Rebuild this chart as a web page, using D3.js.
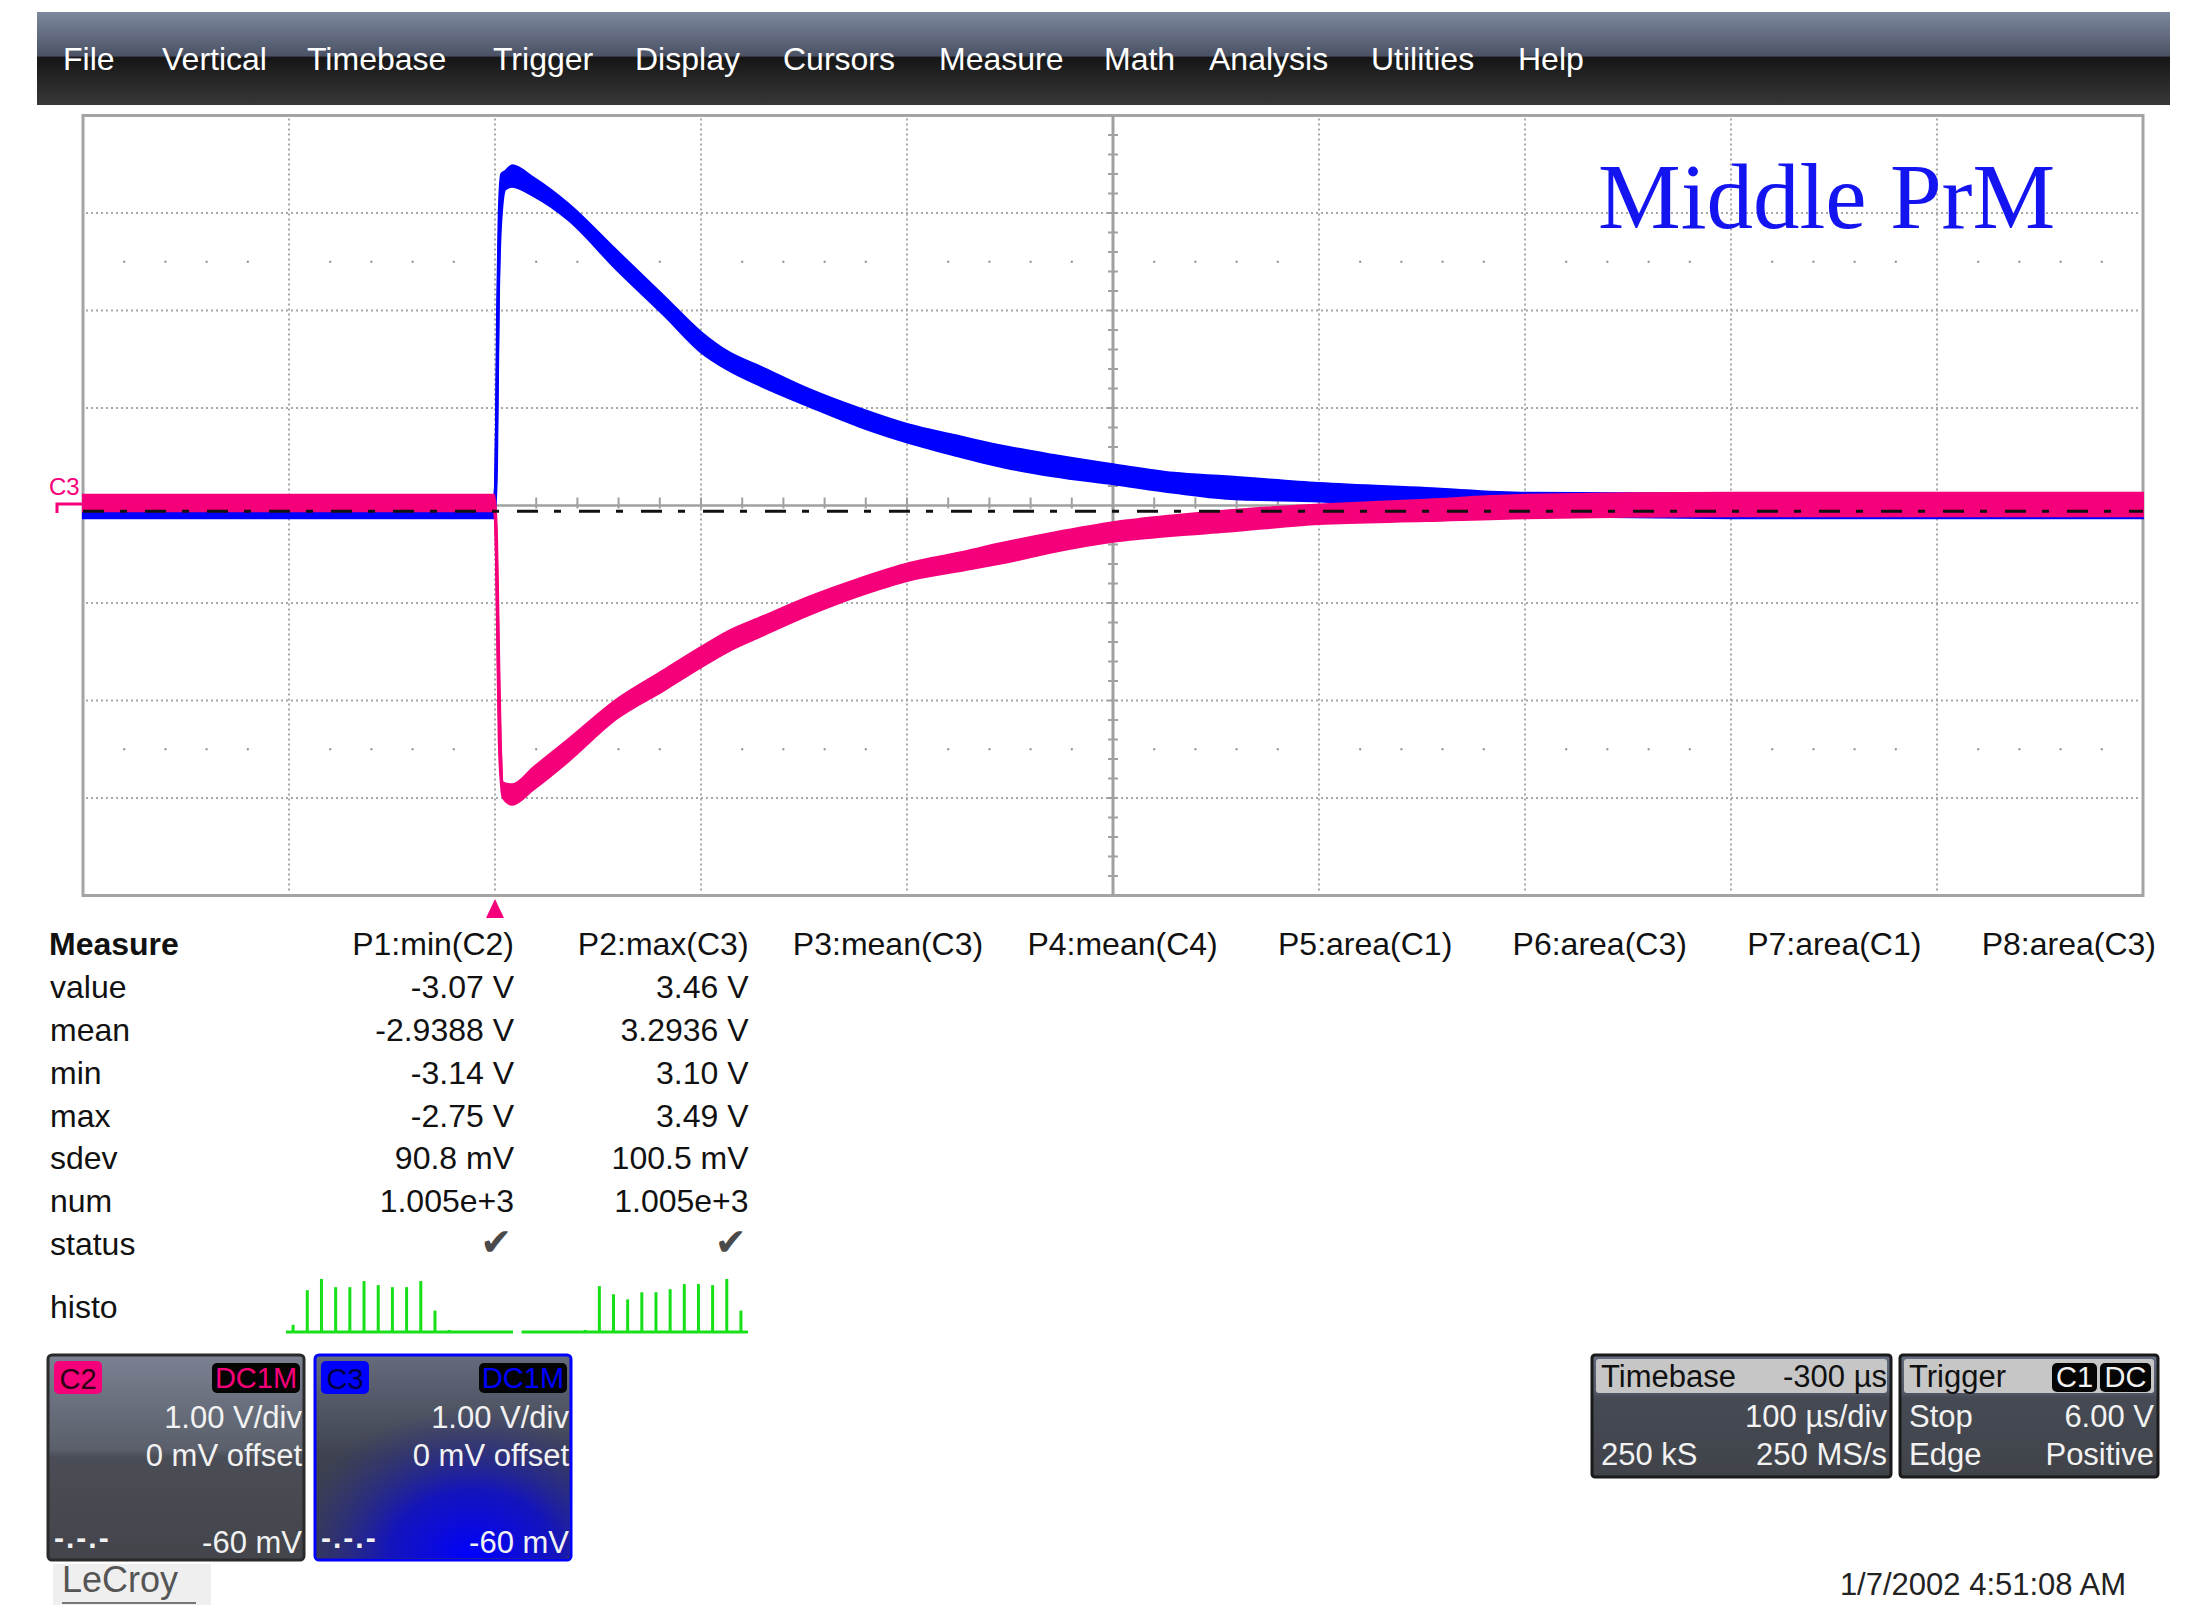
<!DOCTYPE html>
<html>
<head>
<meta charset="utf-8">
<script src="https://cdn.jsdelivr.net/npm/d3@7"></script>
<style>
  body { margin: 0; background: #fff; }
  text { font-family: "Liberation Sans", Arial, sans-serif; }
</style>
</head>
<body>
<script>
// ---- data ----
var menuItems = ["File", "Vertical", "Timebase", "Trigger", "Display", "Cursors", "Measure", "Math", "Analysis", "Utilities", "Help"];
var menuX = [63, 162, 307, 493, 635, 783, 939, 1104, 1209, 1371, 1518];

// C3 (blue) trace envelope, time in us, volts
var c3Time = [-200, -0.5, 0.3, 1.0, 1.8, 3, 5, 8.3, 18.9, 35.4, 58.9, 82.5, 100, 113, 129.5, 153, 176.6, 201, 223.6, 247, 270.7, 300.8, 329.6, 355, 400, 452, 501, 600, 700, 800];
var c3Hi = [0.05, 0.05, 0.45, 2.0, 3.0, 3.4, 3.43, 3.49, 3.36, 3.10, 2.62, 2.14, 1.78, 1.58, 1.42, 1.19, 1.00, 0.83, 0.72, 0.61, 0.52, 0.42, 0.335, 0.30, 0.23, 0.18, 0.13, 0.12, 0.12, 0.12];
var c3Lo = [-0.13, -0.13, 0.0, 0.45, 2.0, 2.9, 3.24, 3.27, 3.17, 2.93, 2.42, 1.94, 1.57, 1.39, 1.22, 1.01, 0.81, 0.64, 0.51, 0.39, 0.30, 0.215, 0.13, 0.07, 0.04, -0.02, -0.1, -0.13, -0.13, -0.13];

// C2 (pink) trace envelope
var c2Time = [-200, -0.5, 0.3, 1.0, 1.8, 2.8, 3.8, 8.3, 18.9, 35.4, 58.9, 82.5, 100, 113, 129.5, 153, 176.6, 201, 223.6, 247, 270.7, 300.8, 329.6, 355, 400, 452, 501, 600, 700, 800];
var c2Hi = [0.11, 0.11, 0, -0.35, -1.3, -2.4, -2.84, -2.86, -2.68, -2.40, -1.99, -1.68, -1.45, -1.29, -1.14, -0.93, -0.75, -0.59, -0.49, -0.38, -0.28, -0.17, -0.10, -0.05, 0.01, 0.06, 0.11, 0.13, 0.13, 0.13];
var c2Lo = [-0.06, -0.06, -0.35, -1.3, -2.4, -2.84, -3.0, -3.07, -2.91, -2.63, -2.19, -1.89, -1.66, -1.50, -1.34, -1.12, -0.93, -0.77, -0.68, -0.59, -0.48, -0.37, -0.31, -0.27, -0.19, -0.16, -0.13, -0.11, -0.11, -0.11];

var triggerLevel = -0.06; // V, dash-dot line

var measureCols = ["P1:min(C2)", "P2:max(C3)", "P3:mean(C3)", "P4:mean(C4)", "P5:area(C1)", "P6:area(C3)", "P7:area(C1)", "P8:area(C3)"];
var measureRows = ["value", "mean", "min", "max", "sdev", "num", "status"];
var p1Values = ["-3.07 V", "-2.9388 V", "-3.14 V", "-2.75 V", "90.8 mV", "1.005e+3"];
var p2Values = ["3.46 V", "3.2936 V", "3.10 V", "3.49 V", "100.5 mV", "1.005e+3"];
var histoP1 = [8, 42, 53, 45, 45, 51, 47, 45, 45, 51, 22, 3, 0, 0, 0, 0];
var histoP2 = [0, 0, 0, 0, 3, 46, 38, 33, 40, 40, 43, 48, 48, 47, 53, 22];

var W = 2208, H = 1605;
var svg = d3.select("body").append("svg").attr("width", W).attr("height", H);
var defs = svg.append("defs");

function linGrad(id, stops) {
    var g = defs.append("linearGradient").attr("id", id)
	.attr("x1", 0).attr("y1", 0).attr("x2", 0).attr("y2", 1);
    stops.forEach(function (s) {
	g.append("stop").attr("offset", s[0]).attr("stop-color", s[1]);
    });
}
linGrad("menuG", [["0%", "#7d889c"], ["47%", "#4b5266"], ["49%", "#161616"], ["100%", "#383838"]]);
linGrad("boxG", [["0%", "#7b8191"], ["46%", "#5a5f6b"], ["50%", "#4a4d55"], ["100%", "#43454b"]]);
linGrad("boxC3G", [["0%", "#656b7c"], ["50%", "#3e4250"], ["100%", "#3a3d4a"]]);
linGrad("infoG", [["0%", "#646c80"], ["30%", "#545a6a"], ["35%", "#464a54"], ["100%", "#404349"]]);
var rg = defs.append("radialGradient").attr("id", "blueGlow")
    .attr("cx", "62%").attr("cy", "100%").attr("r", "75%");
rg.append("stop").attr("offset", "0%").attr("stop-color", "#0000ff").attr("stop-opacity", 1);
rg.append("stop").attr("offset", "45%").attr("stop-color", "#1010c8").attr("stop-opacity", 0.9);
rg.append("stop").attr("offset", "100%").attr("stop-color", "#2a2e80").attr("stop-opacity", 0);

/**
 * Menu bar
 */
svg.append("rect").attr("x", 37).attr("y", 12).attr("width", 2133).attr("height", 93)
    .attr("fill", "url(#menuG)");
svg.selectAll("text.menu").data(menuItems).enter().append("text")
    .attr("class", "menu")
    .attr("x", function (d, i) { return menuX[i]; }).attr("y", 70)
    .attr("font-size", 32).attr("fill", "#fff").text(function (d) { return d; });

/**
 * Grid
 */
var x = d3.scaleLinear().domain([-200, 800]).range([83, 2143]);
var y = d3.scaleLinear().domain([-4, 4]).range([895.5, 115.5]);
var grid = svg.append("g");
grid.append("rect").attr("x", x(-200)).attr("y", y(4)).attr("width", x(800) - x(-200))
    .attr("height", y(-4) - y(4)).attr("fill", "#fff").attr("stroke", "#a4a4a4").attr("stroke-width", 3);

var xMajor = d3.range(-100, 800, 100).filter(function (t) { return t !== 300; });
var yMajor = d3.range(-3, 4, 1).filter(function (v) { return v !== 0; });
grid.selectAll("line.vx").data(xMajor).enter().append("line")
    .attr("x1", x).attr("x2", x).attr("y1", y(4) + 3).attr("y2", y(-4) - 3)
    .attr("stroke", "#a8a8a8").attr("stroke-width", 2).attr("stroke-dasharray", "2,3");
grid.selectAll("line.hy").data(yMajor).enter().append("line")
    .attr("y1", y).attr("y2", y).attr("x1", x(-200) + 3).attr("x2", x(800) - 3)
    .attr("stroke", "#a8a8a8").attr("stroke-width", 2).attr("stroke-dasharray", "2,3");

// sparse dotted rows at +/-2.5 div
var minorT = d3.range(-200, 801, 20).filter(function (t) { return t % 100 !== 0; });
[2.5, -2.5].forEach(function (v) {
    grid.selectAll(null).data(minorT).enter().append("rect")
	.attr("x", function (t) { return x(t) - 1; }).attr("y", y(v) - 1)
	.attr("width", 2).attr("height", 2).attr("fill", "#8c8c8c");
});

// centre cross with minor ticks
grid.append("line").attr("x1", x(300)).attr("x2", x(300)).attr("y1", y(4)).attr("y2", y(-4))
    .attr("stroke", "#a0a0a0").attr("stroke-width", 3);
grid.append("line").attr("x1", x(-200)).attr("x2", x(800)).attr("y1", y(0)).attr("y2", y(0))
    .attr("stroke", "#a0a0a0").attr("stroke-width", 2.5);
var minorV = d3.range(-3.8, 4, 0.2).filter(function (v) { return Math.abs(v) > 0.05; });
grid.selectAll("line.tv").data(minorV).enter().append("line")
    .attr("x1", x(300) - 5).attr("x2", x(300) + 5).attr("y1", y).attr("y2", y)
    .attr("stroke", "#a0a0a0").attr("stroke-width", 2);
grid.selectAll("line.th").data(minorT.concat(xMajor)).enter().append("line")
    .attr("x1", x).attr("x2", x).attr("y1", y(0) - 8).attr("y2", y(0) + 3)
    .attr("stroke", "#a0a0a0").attr("stroke-width", 2);

/**
 * Traces
 */
function rows(t, hi, lo) {
    return t.map(function (d, i) { return { t: d, hi: hi[i], lo: lo[i] }; });
}
var band = d3.area().x(function (d) { return x(d.t); })
    .y0(function (d) { return y(d.lo); }).y1(function (d) { return y(d.hi); })
    .curve(d3.curveMonotoneX);
var midLine = d3.line().x(function (d) { return x(d.t); })
    .y(function (d) { return y((d.lo + d.hi) / 2); }).curve(d3.curveMonotoneX);

var traces = [
    { data: rows(c3Time, c3Hi, c3Lo), color: "#0000ff" },
    { data: rows(c2Time, c2Hi, c2Lo), color: "#f5007a" }
];
traces.forEach(function (tr) {
    svg.append("path").attr("d", band(tr.data)).attr("fill", tr.color)
	.attr("stroke", tr.color).attr("stroke-width", 2);
    svg.append("path").attr("d", midLine(tr.data)).attr("fill", "none")
	.attr("stroke", tr.color).attr("stroke-width", 3);
});

// trigger level dash-dot line
svg.append("line").attr("x1", x(-200)).attr("x2", x(800))
    .attr("y1", y(triggerLevel)).attr("y2", y(triggerLevel))
    .attr("stroke", "#111").attr("stroke-width", 3).attr("stroke-dasharray", "21,16,7,18");

// "Middle PrM" annotation
svg.append("text").attr("x", 1598).attr("y", 228).attr("font-size", 93)
    .style("font-family", "'Liberation Serif', 'Times New Roman', serif")
    .attr("fill", "#1414f0").text("Middle PrM");

// channel ground marker at left
svg.append("text").attr("x", 49).attr("y", 495).attr("font-size", 24)
    .attr("fill", "#f5007a").text("C3");
svg.append("path").attr("d", "M57,513 L57,504 L82,504").attr("fill", "none")
    .attr("stroke", "#f5007a").attr("stroke-width", 3);

// trigger position marker
var tx = x(0);
svg.append("path").attr("d", "M" + tx + ",899 L" + (tx + 9) + ",918 L" + (tx - 9) + ",918 Z")
    .attr("fill", "#f5007a");

/**
 * Measurement table
 */
var colX = d3.scaleLinear().domain([0, 7]).range([514, 2156]);
var rowY = d3.scaleLinear().domain([0, 6]).range([998, 1255]);
var tbl = svg.append("g").attr("font-size", 32).attr("fill", "#111");
tbl.append("text").attr("x", 49).attr("y", 955).attr("font-weight", "bold").text("Measure");
tbl.selectAll("text.col").data(measureCols).enter().append("text")
    .attr("x", function (d, i) { return colX(i); }).attr("y", 955)
    .attr("text-anchor", "end").text(function (d) { return d; });
tbl.selectAll("text.row").data(measureRows).enter().append("text")
    .attr("x", 50).attr("y", function (d, i) { return rowY(i); }).text(function (d) { return d; });
tbl.append("text").attr("x", 50).attr("y", 1318).text("histo");
[p1Values, p2Values].forEach(function (vals, c) {
    tbl.selectAll(null).data(vals).enter().append("text")
	.attr("x", colX(c)).attr("y", function (d, i) { return rowY(i); })
	.attr("text-anchor", "end").text(function (d) { return d; });
    tbl.append("text").attr("x", colX(c) - 2).attr("y", rowY(6))
	.attr("text-anchor", "end").attr("font-size", 38).attr("fill", "#4a4a4a")
	.style("font-family", "'DejaVu Sans', sans-serif").text("\u2714");
});

// histograms
var histY = d3.scaleLinear().domain([0, d3.max(histoP1.concat(histoP2))]).range([0, 54]);
[[histoP1, 286, 513], [histoP2, 521.5, 748]].forEach(function (h) {
    var hx = d3.scaleBand().domain(d3.range(h[0].length)).range([h[1], h[2]]);
    var g = svg.append("g");
    g.append("line").attr("x1", h[1]).attr("x2", h[2]).attr("y1", 1332).attr("y2", 1332)
	.attr("stroke", "#18e018").attr("stroke-width", 3);
    g.selectAll("rect").data(h[0]).enter().append("rect")
	.attr("x", function (d, i) { return hx(i) + hx.bandwidth() / 2 - 1.5; })
	.attr("y", function (d) { return 1333 - histY(d); })
	.attr("width", 3).attr("height", function (d) { return histY(d); })
	.attr("fill", "#18e018");
});

/**
 * Channel descriptor boxes
 */
function badge(g, bx, by, bw, bh, fill, label, color) {
    g.append("rect").attr("x", bx).attr("y", by).attr("width", bw).attr("height", bh)
	.attr("rx", 5).attr("fill", fill);
    g.append("text").attr("x", bx + bw / 2).attr("y", by + bh - 5).attr("text-anchor", "middle")
	.attr("font-size", 29).attr("fill", color).text(label);
}
function channelBox(bx, name, col, nameText, bg, border) {
    var g = svg.append("g");
    g.append("rect").attr("x", bx).attr("y", 1355).attr("width", 256).attr("height", 205)
	.attr("rx", 4).attr("fill", bg).attr("stroke", border).attr("stroke-width", 3);
    if (name === "C3")
	g.append("rect").attr("x", bx + 2).attr("y", 1357).attr("width", 252).attr("height", 201)
	    .attr("rx", 4).attr("fill", "url(#blueGlow)");
    badge(g, bx + 6, 1361, 48, 33, col, name, nameText);
    badge(g, bx + 164, 1363, 88, 30, "#050505", "DC1M", col);
    var right = bx + 254;
    g.append("text").attr("x", right).attr("y", 1428).attr("text-anchor", "end")
	.attr("font-size", 31).attr("fill", "#f2f2f2").text("1.00 V/div");
    g.append("text").attr("x", right).attr("y", 1466).attr("text-anchor", "end")
	.attr("font-size", 31).attr("fill", "#f2f2f2").text("0 mV offset");
    g.append("text").attr("x", bx + 6).attr("y", 1548).attr("letter-spacing", 2)
	.attr("font-size", 30).attr("font-weight", "bold").attr("fill", "#f2f2f2").text("-.-.-");
    g.append("text").attr("x", right).attr("y", 1553).attr("text-anchor", "end")
	.attr("font-size", 31).attr("fill", "#f2f2f2").text("-60 mV");
}
channelBox(48, "C2", "#f5007a", "#2a0012", "url(#boxG)", "#2a2a2a");
channelBox(315, "C3", "#0000ff", "#000040", "url(#boxC3G)", "#0000ff");

/**
 * Timebase and trigger boxes
 */
function infoBox(bx, bw, title, rowsL, rowsR) {
    var g = svg.append("g");
    g.append("rect").attr("x", bx).attr("y", 1355).attr("width", bw).attr("height", 122)
	.attr("rx", 3).attr("fill", "url(#infoG)").attr("stroke", "#1a1a1a").attr("stroke-width", 3);
    g.append("rect").attr("x", bx + 4).attr("y", 1359).attr("width", bw - 8).attr("height", 34)
	.attr("rx", 3).attr("fill", "#c6c6c6");
    g.append("text").attr("x", bx + 9).attr("y", 1387).attr("font-size", 31)
	.attr("fill", "#111").text(title);
    rowsL.forEach(function (t, i) {
	g.append("text").attr("x", bx + 9).attr("y", 1427 + i * 38).attr("font-size", 31)
	    .attr("fill", "#f2f2f2").text(t);
    });
    rowsR.forEach(function (t, i) {
	g.append("text").attr("x", bx + bw - 4).attr("y", 1427 + i * 38).attr("font-size", 31)
	    .attr("text-anchor", "end").attr("fill", "#f2f2f2").text(t);
    });
    return g;
}
var tb = infoBox(1592, 299, "Timebase", ["", "250 kS"], ["100 \u00b5s/div", "250 MS/s"]);
tb.append("text").attr("x", 1887).attr("y", 1387).attr("font-size", 31).attr("text-anchor", "end")
    .attr("fill", "#111").text("-300 \u00b5s");
var tg = infoBox(1900, 258, "Trigger", ["Stop", "Edge"], ["6.00 V", "Positive"]);
badge(tg, 2052, 1363, 45, 29, "#050505", "C1", "#f2f2f2");
badge(tg, 2100, 1363, 51, 29, "#050505", "DC", "#f2f2f2");

/**
 * Logo and time stamp
 */
svg.append("rect").attr("x", 53).attr("y", 1564).attr("width", 158).attr("height", 41).attr("fill", "#efefef");
svg.append("text").attr("x", 62).attr("y", 1592).attr("font-size", 36).attr("fill", "#555")
    .text("LeCroy");
svg.append("line").attr("x1", 62).attr("x2", 196).attr("y1", 1603).attr("y2", 1603)
    .attr("stroke", "#777").attr("stroke-width", 2);
svg.append("text").attr("x", 2126).attr("y", 1595).attr("font-size", 31).attr("text-anchor", "end")
    .attr("fill", "#222").text("1/7/2002 4:51:08 AM");
</script>
</body>
</html>
